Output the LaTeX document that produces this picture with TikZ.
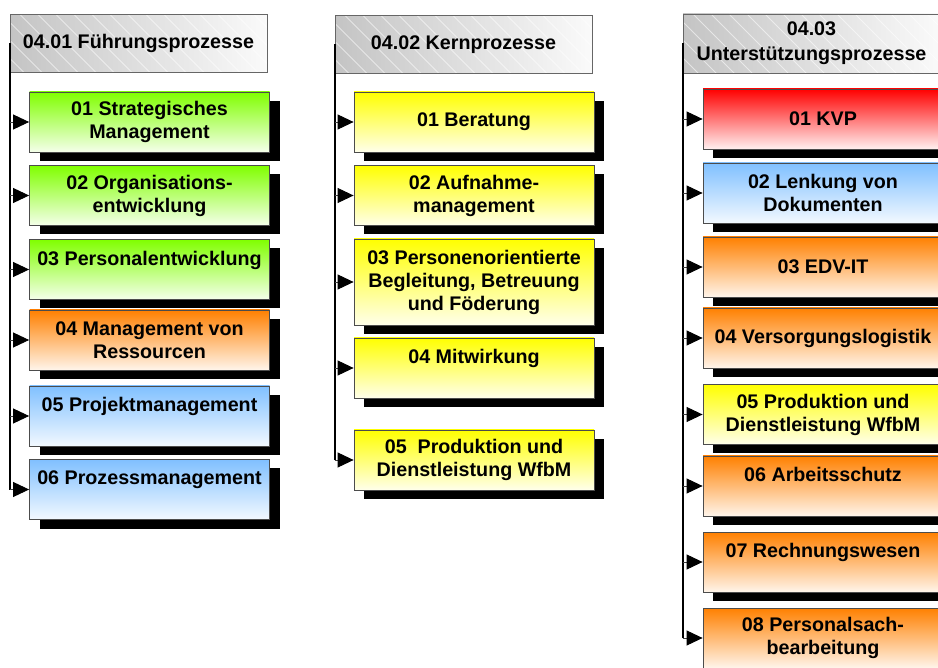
\documentclass[tikz,border=0pt]{standalone}
\usepackage{fontspec}
\setmainfont{Liberation Sans}
\usepackage{xcolor}
\usetikzlibrary{arrows.meta, shadows, calc}

\definecolor{hdrL}{RGB}{196,196,196}
\definecolor{hdrR}{RGB}{250,250,250}
\definecolor{procgreen}{RGB}{128,255,0}
\definecolor{procorange}{RGB}{255,128,0}
\definecolor{procblue}{RGB}{128,192,255}
\definecolor{procyellow}{RGB}{255,255,0}
\definecolor{procred}{RGB}{255,0,0}

\begin{document}
\begin{tikzpicture}[x=1pt, y=-1pt,
    head/.style={draw=gray!80!black, line width=0.8pt, minimum width=257pt, minimum height=58pt,
        inner sep=0pt, align=center, font=\bfseries\fontsize{19.7}{25}\selectfont,
        left color=hdrL, right color=hdrR,
        path picture={\foreach \i in {-80,-62,...,260}
            \draw[white, opacity=0.55, line width=0.8pt]
                ($(path picture bounding box.north west)+(\i,0)$) -- ++(80,80);}},
    proc/.style={draw=gray!60!black, line width=0.8pt, minimum width=240pt, minimum height=60pt,
        inner sep=0pt, align=center, font=\bfseries\fontsize{19.7}{23}\selectfont,
        drop shadow={shadow xshift=10pt, shadow yshift=-9pt, fill=black, opacity=1}},
    greenbox/.style={proc, top color=procgreen, bottom color=procgreen!8},
    orangebox/.style={proc, top color=procorange, bottom color=procorange!8},
    bluebox/.style={proc, top color=procblue, bottom color=procblue!10},
    yellowbox/.style={proc, top color=procyellow, bottom color=procyellow!8},
    redbox/.style={proc, top color=procred, bottom color=procred!6},
    trunk/.style={line width=1.8pt, draw=black},
    link/.style={-{Triangle[length=16pt,width=15pt,color=black]}, line width=0.9pt, draw=gray!50!black}
]
\useasboundingbox (0,0) rectangle (938,668);

% Fuehrungsprozesse
\node[head] (h1) at (138.5,43.5) {04.01 Führungsprozesse};
\node[greenbox] (f1) at (149.5,122) {01 Strategisches\\Management};
\node[greenbox] (f2) at (149.5,195.5) {02 Organisations-\\entwicklung};
\node[greenbox] (f3) at (149.5,269.5) {03 Personalentwicklung\\~};
\node[orangebox] (f4) at (149.5,340) {04 Management von\\Ressourcen};
\node[bluebox] (f5) at (149.5,416) {05 Projektmanagement\\~};
\node[bluebox] (f6) at (149.5,489.5) {06 Prozessmanagement\\~};

% Kernprozesse
\node[head] (h2) at (463.5,44.5) {04.02 Kernprozesse};
\node[yellowbox] (k1) at (474,122) {01 Beratung};
\node[yellowbox] (k2) at (474,195.5) {02 Aufnahme-\\management};
\node[yellowbox, minimum height=86pt] (k3) at (474,282) {03 Personenorientierte\\Begleitung, Betreuung\\und Föderung};
\node[yellowbox] (k4) at (474,368) {04 Mitwirkung\\~};
\node[yellowbox] (k5) at (474,460) {05~~Produktion und\\Dienstleistung WfbM};

% Unterstuetzungsprozesse
\node[head, minimum height=59pt] (h3) at (811.5,43.5) {04.03\\Unterstützungsprozesse};
\node[redbox] (u1) at (823,119) {01 KVP};
\node[bluebox] (u2) at (823,193) {02 Lenkung von\\Dokumenten};
\node[orangebox] (u3) at (823,267) {03 EDV-IT};
\node[orangebox] (u4) at (823,338) {04 Versorgungslogistik};
\node[yellowbox] (u5) at (823,414.5) {05 Produktion und\\Dienstleistung WfbM};
\node[orangebox] (u6) at (823,486) {06 Arbeitsschutz\\~};
\node[orangebox] (u7) at (823,562) {07 Rechnungswesen\\~};
\node[orangebox] (u8) at (823,638) {08 Personalsach-\\bearbeitung};

% connectors
\draw[trunk] (h1.west) -- (h1.west |- f6.west);
\foreach \b in {f1,f2,f3,f4,f5,f6}
    \draw[link] (h1.west |- \b.west) -- (\b.west);
\draw[trunk] (h2.west) -- (h2.west |- k5.west);
\foreach \b in {k1,k2,k3,k4,k5}
    \draw[link] (h2.west |- \b.west) -- (\b.west);
\draw[trunk] (h3.west) -- (h3.west |- u8.west);
\foreach \b in {u1,u2,u3,u4,u5,u6,u7,u8}
    \draw[link] (h3.west |- \b.west) -- (\b.west);
\end{tikzpicture}
\end{document}
